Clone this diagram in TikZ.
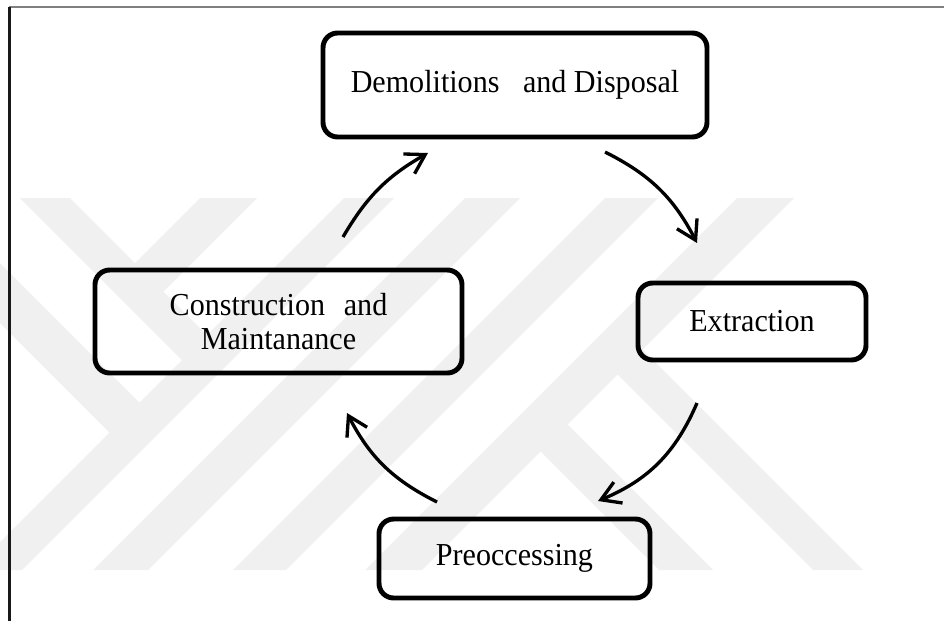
\documentclass[tikz,border=0pt]{standalone}
\usepackage{fontspec}
\setmainfont{Liberation Serif}[FakeStretch=0.94]
\usetikzlibrary{arrows.meta}
\begin{document}
\begin{tikzpicture}[x=0.75pt,y=-0.75pt,
  stage/.style={draw, line width=3.7pt, rounded corners=11pt, inner sep=0pt,
    align=center, font=\fontsize{24}{25}\selectfont},
  flow/.style={line width=2.5pt, -{Straight Barb[length=14pt,width=17pt]}},
  wm/.style={fill=black!6, draw=none}]
\useasboundingbox (0,0) rectangle (944,621);
% faint watermark
\begin{scope}
\clip (0,0) rectangle (944,621);
\fill[wm] (200,198) -- (257,198) -- (151,304) -- (122.5,275.5) -- cycle;
\fill[wm] (20,198) -- (70,198) -- (219.5,347.5) -- (194.5,372.5) -- cycle;
\fill[wm] (0,263) -- (0,323) -- (122,445) -- (152,415) -- cycle;
\fill[wm] (344,198) -- (394,198) -- (22,570) -- (-28,570) -- cycle;
\fill[wm] (465,198) -- (520,198) -- (148,570) -- (93,570) -- cycle;
\fill[wm] (605,198) -- (658,198) -- (286,570) -- (233,570) -- cycle;
\fill[wm] (737,198) -- (794,198) -- (422,570) -- (365,570) -- cycle;
\fill[wm] (526,437) -- (553,410) -- (713,570) -- (659,570) -- cycle;
\fill[wm] (603,360) -- (628,335) -- (863,570) -- (813,570) -- cycle;
\end{scope}
% frame
\draw[line width=0.8pt, black!50] (9,7) -- (944,7);
\draw[line width=1.6pt, black!90] (9.5,6.5) -- (9.5,621);
% stages
\node[stage, minimum width=288pt, minimum height=78pt] (dem) at (515,85)
  {Demolitions\hspace{0.5em} and Disposal};
\node[stage, minimum width=275.25pt, minimum height=77.25pt] (con) at (278.5,321.5)
  {Construction\hspace{0.35em} and\\Maintanance};
\node[stage, minimum width=171pt, minimum height=57.75pt] (ext) at (752,321.5)
  {Extraction};
\node[stage, minimum width=203.25pt, minimum height=59.25pt] (pre) at (514.5,558.5)
  {Preoccessing};
% arrow ends
\coordinate (a1s) at (343,237);
\coordinate (a1e) at (428,153);
\coordinate (a2s) at (605,152);
\coordinate (a2e) at (697,243);
\coordinate (a3s) at (697,403);
\coordinate (a3e) at (598,501);
\coordinate (a4s) at (437,502);
\coordinate (a4e) at (347,413);
\draw[flow] (a1s) to[bend left=15] (a1e);
\draw[flow] (a2s) to[bend left=18] (a2e);
\draw[flow] (a3s) to[bend left=22] (a3e);
\draw[flow] (a4s) to[bend left=18] (a4e);
\end{tikzpicture}
\end{document}
